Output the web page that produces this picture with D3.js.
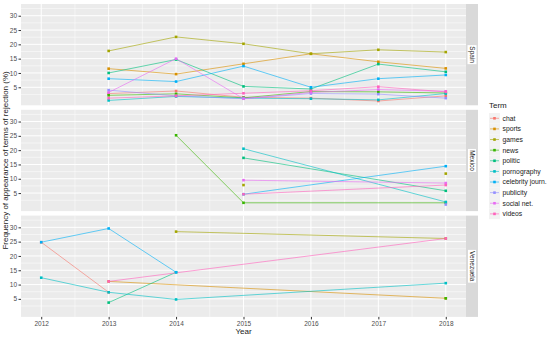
<html>
  <head>
    <meta charset="utf-8" />
    <title>Terms of rejection</title>
    <script src="https://d3js.org/d3.v7.min.js"></script>
    <style type="text/css">
      body { margin: 0; background: white; }
      text { font-family: "Liberation Sans", Arial, sans-serif; }
    </style>
  </head>
  <body>
    <div id="chart"></div>
    <script type="text/javascript">
      // data (null = no value, NaN = value missing, line broken)
      var years = [2012, 2013, 2014, 2015, 2016, 2017, 2018];
      var terms = ["chat", "sports", "games", "news", "politic", "pornography",
                   "celebrity journ.", "publicity", "social net.", "videos"];
      var countries = ["Spain", "Mexico", "Venezuela"];
      var yTicks = [5, 10, 15, 20, 25, 30];
      var palette = ["#F8766D", "#D89000", "#A3A500", "#39B600", "#00BF7D",
                     "#00BFC4", "#00B0F6", "#9590FF", "#E76BF3", "#FF62BC"];

      var spain = [
        [null, 2.8, 3.7, 1.5, 1.2, 0.2, 2.0],
        [null, 11.5, 9.6, 13.2, 16.7, 13.9, 11.6],
        [null, 17.7, 22.6, 20.2, 16.7, 18.1, 17.3],
        [null, 2.2, 2.7, 1.3, 3.5, 3.4, 3.0],
        [null, 10.0, 14.7, 5.3, 4.4, 13.1, 10.4],
        [null, 0.4, 1.8, 1.2, 1.0, 0.6, 2.8],
        [null, 8.0, 7.0, 12.4, 5.0, 8.0, 9.3],
        [null, 4.0, 2.0, 1.0, 2.8, 2.6, 1.2],
        [null, 3.2, 15.0, 1.0, 3.2, 4.2, 3.6],
        [null, 1.2, 2.0, 2.9, 3.8, 5.2, 3.4]
      ];
      var mexico = [
        [null, null, null, null, null, null, null],
        [null, null, null, null, null, null, null],
        [null, null, null, 7.8, NaN, NaN, 11.8],
        [null, null, 25.2, 1.6, null, null, 1.6],
        [null, null, null, 17.3, null, null, 5.8],
        [null, null, null, 20.5, null, null, 1.9],
        [null, null, null, 4.6, null, null, 14.4],
        [null, null, null, null, null, null, 1.0],
        [null, null, null, 9.5, null, null, 8.5],
        [null, null, null, 4.6, null, null, 7.8]
      ];
      var venezuela = [
        [24.8, 7.3, null, null, null, null, null],
        [null, 11.1, null, null, null, null, 5.2],
        [null, null, 28.5, null, null, null, 26.1],
        [null, null, null, null, null, null, 5.2],
        [null, 3.7, 14.3, null, null, null, null],
        [12.4, 7.3, 4.8, null, null, null, 10.5],
        [24.8, 29.6, 14.3, null, null, null, null],
        [null, null, null, null, null, null, null],
        [null, null, null, null, null, null, null],
        [null, 11.1, null, null, null, null, 26.1]
      ];
      var tables = [spain, mexico, venezuela];

      var width = 550, height = 338;
      var left = 21, right = 466, stripW = 12;
      var panelH = 101.3, gap = 4.5, topY = 4;

      var svg = d3.select("#chart").append("svg")
          .attr("width", width)
          .attr("height", height);

      var x = d3.scaleLinear().domain([2011.7, 2018.3]).range([left, right]);
      var y = d3.scaleLinear().domain([-1.3, 34.1]).range([panelH, 0]);
      var color = d3.scaleOrdinal().domain(terms).range(palette);

      var minorX = d3.range(2011.5, 2018.6, 1);
      var minorY = d3.range(2.5, 33, 5);

      countries.forEach(function(country, ci) {
        var g = svg.append("g")
            .attr("transform", "translate(0," + (topY + ci * (panelH + gap)) + ")");

        g.append("rect")
            .attr("x", left).attr("y", 0)
            .attr("width", right - left).attr("height", panelH)
            .style("fill", "#EBEBEB");

        // grid
        g.selectAll(".minx").data(minorX).enter().append("line")
            .attr("x1", d => x(d)).attr("x2", d => x(d))
            .attr("y1", 0).attr("y2", panelH)
            .style("stroke", "white").style("stroke-width", 0.5);
        g.selectAll(".miny").data(minorY).enter().append("line")
            .attr("x1", left).attr("x2", right)
            .attr("y1", d => y(d)).attr("y2", d => y(d))
            .style("stroke", "white").style("stroke-width", 0.5);
        g.selectAll(".majx").data(years).enter().append("line")
            .attr("x1", d => x(d)).attr("x2", d => x(d))
            .attr("y1", 0).attr("y2", panelH)
            .style("stroke", "white").style("stroke-width", 1);
        g.selectAll(".majy").data(yTicks).enter().append("line")
            .attr("x1", left).attr("x2", right)
            .attr("y1", d => y(d)).attr("y2", d => y(d))
            .style("stroke", "white").style("stroke-width", 1);

        // y axis
        var yAxis = g.append("g")
            .attr("transform", "translate(" + left + ",0)")
            .call(d3.axisLeft(y).tickValues(yTicks).tickSize(2.5).tickPadding(1.5));
        yAxis.select(".domain").remove();
        yAxis.selectAll("line").style("stroke", "#333333");
        yAxis.selectAll("text").style("font-size", "6.5px").style("fill", "#4D4D4D");

        // strip
        g.append("rect")
            .attr("x", right).attr("y", 0)
            .attr("width", stripW).attr("height", panelH)
            .style("fill", "#D9D9D9");
        var st = g.append("text")
            .attr("transform", "translate(" + (right + stripW / 2) + "," + (panelH / 2) + ") rotate(90)")
            .attr("text-anchor", "middle")
            .attr("dy", "0.35em")
            .style("font-size", "6.5px")
            .style("fill", "#1A1A1A")
            .text(country);
        var bb = st.node().getBBox();
        g.insert("rect", () => st.node())
            .attr("x", right + stripW / 2 - bb.height / 2 - 0.5)
            .attr("y", panelH / 2 - bb.width / 2 - 1)
            .attr("width", bb.height + 1)
            .attr("height", bb.width + 2)
            .style("fill", "white");

        // series
        var table = tables[ci];
        var line = d3.line()
            .defined(d => !isNaN(d.v))
            .x(d => x(d.year))
            .y(d => y(d.v));

        terms.forEach(function(term, ti) {
          var pts = [];
          table[ti].forEach(function(v, yi) {
            if (v !== null) pts.push({ year: years[yi], v: v });
          });
          g.append("path")
              .datum(pts)
              .attr("d", line)
              .style("fill", "none")
              .style("stroke", color(term))
              .style("stroke-width", 1)
              .style("stroke-opacity", 0.6);
        });
        terms.forEach(function(term, ti) {
          var pts = [];
          table[ti].forEach(function(v, yi) {
            if (v !== null && !isNaN(v)) pts.push({ year: years[yi], v: v });
          });
          g.selectAll(".pt" + ti).data(pts).enter().append("rect")
              .attr("x", d => x(d.year) - 1.3)
              .attr("y", d => y(d.v) - 1.3)
              .attr("width", 2.6).attr("height", 2.6)
              .style("fill", color(term));
        });
      });

      // x axis
      var bottom = topY + 3 * panelH + 2 * gap;
      var xAxis = svg.append("g")
          .attr("transform", "translate(0," + bottom + ")")
          .call(d3.axisBottom(x).tickValues(years).tickFormat(d3.format("d")).tickSize(2.5).tickPadding(1.5));
      xAxis.select(".domain").remove();
      xAxis.selectAll("line").style("stroke", "#333333");
      xAxis.selectAll("text").style("font-size", "6.5px").style("fill", "#4D4D4D");

      svg.append("text")
          .attr("x", (left + right) / 2)
          .attr("y", 334)
          .attr("text-anchor", "middle")
          .style("font-size", "8px")
          .style("fill", "#1A1A1A")
          .text("Year");

      svg.append("text")
          .attr("transform", "translate(8," + ((topY + bottom) / 2) + ") rotate(-90)")
          .attr("text-anchor", "middle")
          .style("font-size", "8px")
          .style("fill", "#1A1A1A")
          .text("Frequency of appearance of terms of rejection (%)");

      // legend
      var legend = svg.append("g").attr("transform", "translate(489,0)");
      legend.append("text")
          .attr("x", 0).attr("y", 108)
          .style("font-size", "8px")
          .style("fill", "#1A1A1A")
          .text("Term");
      var items = legend.selectAll(".item").data(terms).enter().append("g")
          .attr("transform", (d, i) => "translate(0," + (113 + i * 10.62) + ")");
      items.append("rect")
          .attr("width", 11).attr("height", 10.6)
          .style("fill", "#F2F2F2");
      items.append("line")
          .attr("x1", 1).attr("x2", 10)
          .attr("y1", 5.3).attr("y2", 5.3)
          .style("stroke", d => color(d))
          .style("stroke-opacity", 0.6)
          .style("stroke-width", 1);
      items.append("rect")
          .attr("x", 4.2).attr("y", 4)
          .attr("width", 2.6).attr("height", 2.6)
          .style("fill", d => color(d));
      items.append("text")
          .attr("x", 13.5).attr("y", 5.3)
          .attr("dy", "0.35em")
          .style("font-size", "6.8px")
          .style("fill", "#1A1A1A")
          .text(d => d);
    </script>
  </body>
</html>
